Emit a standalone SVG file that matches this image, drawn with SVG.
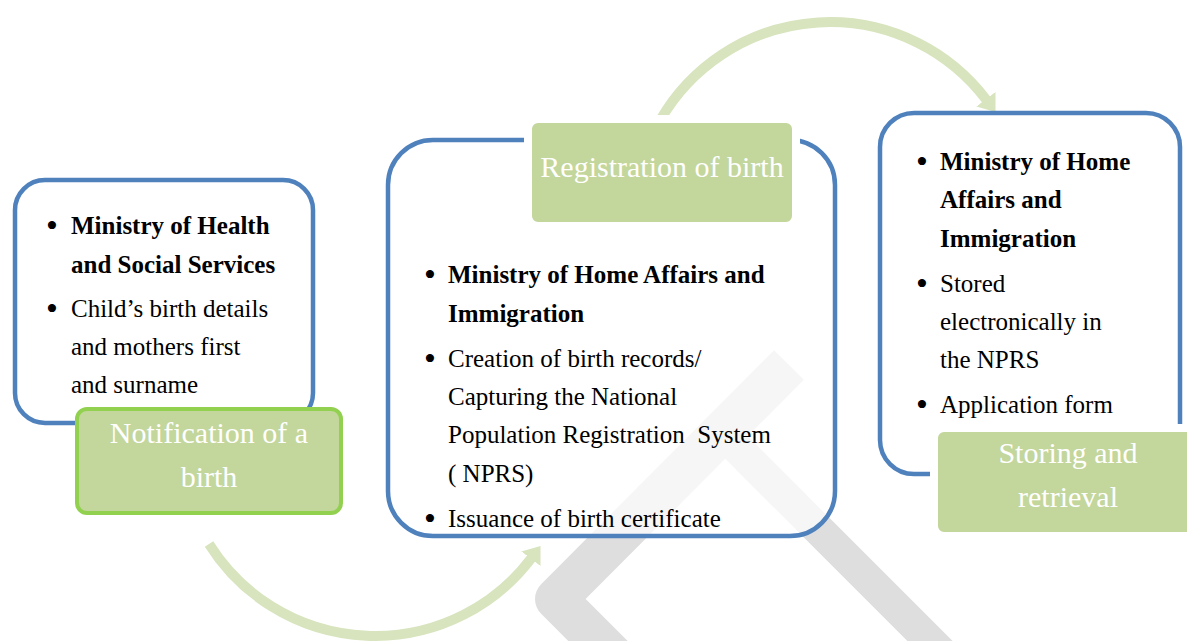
<svg xmlns="http://www.w3.org/2000/svg" width="1187" height="641" viewBox="0 0 1187 641">
<style>
.box{fill:#fff;stroke:#4f81bd;stroke-width:4.5}
.lbl{fill:#c3d69b;stroke:#fff;stroke-width:8}
.t{font-family:"Liberation Serif","Times New Roman",serif;font-size:25px;fill:#000}
.b{font-weight:bold}
.lt{font-family:"Liberation Serif","Times New Roman",serif;font-size:30px;fill:#fff;text-anchor:middle}
.bul{font-family:"Liberation Serif","Times New Roman",serif;font-size:34px;fill:#000;text-anchor:middle}
.arc{fill:none;stroke:#d7e4bd;stroke-width:10}
.wm{fill:none;stroke:#dedede}
</style>
<defs>
<marker id="ah" viewBox="0 0 16 24" refX="1" refY="12" markerWidth="16" markerHeight="24" markerUnits="userSpaceOnUse" orient="auto">
<path d="M0,0 L16,12 L0,24 z" fill="#d7e4bd"/>
</marker>
</defs>
<rect width="1187" height="641" fill="#fff"/>
<g id="watermark">
<path class="wm" d="M789,365 L556,599 L630,673" stroke-width="42" stroke-linejoin="round"/>
<path class="wm" d="M722,433 L1000,711" stroke-width="32"/>
</g>
<g id="connectors">
<path class="arc" d="M209,544 A196,196 0 0 0 531.5,558" marker-end="url(#ah)"/>
<path class="arc" d="M660.3,120 A196,196 0 0 1 986.5,100" marker-end="url(#ah)"/>
</g>
<g id="node-notification">
<rect class="box" x="15" y="180" width="298" height="243" rx="30"/>
<text class="bul" x="52" y="237">•</text>
<text class="t b" x="71" y="234">Ministry of Health</text>
<text class="t b" x="71" y="273">and Social Services</text>
<text class="bul" x="52" y="320">•</text>
<text class="t" x="71" y="317">Child’s birth details</text>
<text class="t" x="71" y="355">and mothers first</text>
<text class="t" x="71" y="393">and surname</text>
<rect x="77" y="409" width="264" height="104" rx="10" fill="#c3d69b" stroke="#92d050" stroke-width="4"/>
<text class="lt" x="209" y="443">Notification of a</text>
<text class="lt" x="209" y="487">birth</text>
</g>
<g id="node-registration">
<rect class="box" x="388" y="140" width="447" height="396" rx="45" fill-opacity="0.72"/>
<rect class="lbl" x="528" y="119" width="268" height="107" rx="10"/>
<text class="lt" x="662" y="177">Registration of birth</text>
<text class="bul" x="430" y="286">•</text>
<text class="t b" x="448" y="283">Ministry of Home Affairs and</text>
<text class="t b" x="448" y="322">Immigration</text>
<text class="bul" x="430" y="370">•</text>
<text class="t" x="448" y="367">Creation of birth records/</text>
<text class="t" x="448" y="405">Capturing the National</text>
<text class="t" x="448" y="443" xml:space="preserve">Population Registration  System</text>
<text class="t" x="448" y="482">( NPRS)</text>
<text class="bul" x="430" y="530">•</text>
<text class="t" x="448" y="527">Issuance of birth certificate</text>
</g>
<g id="node-storing">
<rect class="box" x="880" y="113" width="300" height="361" rx="34"/>
<text class="bul" x="922" y="173">•</text>
<text class="t b" x="940" y="170">Ministry of Home</text>
<text class="t b" x="940" y="208">Affairs and</text>
<text class="t b" x="940" y="247">Immigration</text>
<text class="bul" x="922" y="295">•</text>
<text class="t" x="940" y="292">Stored</text>
<text class="t" x="940" y="330">electronically in</text>
<text class="t" x="940" y="368">the NPRS</text>
<text class="bul" x="922" y="416">•</text>
<text class="t" x="940" y="413">Application form</text>
<rect class="lbl" x="934" y="428" width="274" height="108" rx="10"/>
<text class="lt" x="1068" y="463">Storing and</text>
<text class="lt" x="1068" y="507">retrieval</text>
</g>
</svg>
